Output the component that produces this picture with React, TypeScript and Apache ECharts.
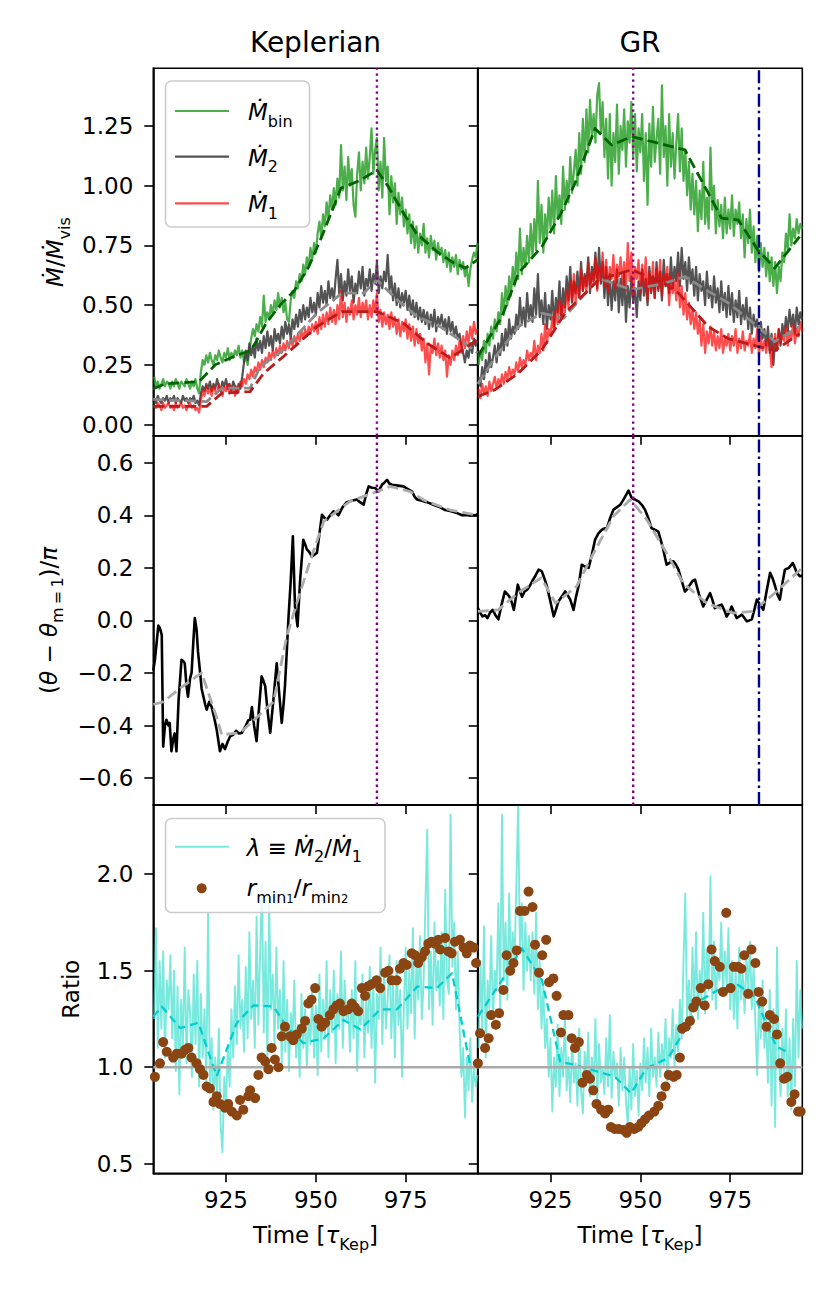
import React, { useEffect, useRef } from 'react';
import * as echarts from 'echarts';

// ---------- axes / ticks ----------
const T0 = 905;
const DT = 0.5;
const X_MIN = 904.75;
const X_MAX = 995.05;
const X_TICKS = [925, 950, 975];
const MDOT_TICKS = [0, 0.25, 0.5, 0.75, 1.0, 1.25];
const THETA_TICKS = [-0.6, -0.4, -0.2, 0, 0.2, 0.4, 0.6];
const RATIO_TICKS = [0.5, 1.0, 1.5, 2.0];
const Y_RANGES = [[-0.0473, 1.4918], [-0.7025, 0.7025], [0.4503, 2.3586]];
const COL_TITLES = ['Keplerian', 'GR'];
const T_PEAK = [967.0, 948.0];
const T_BLUE_GR = 983.0;
const RATIO_REF = 1.0;

// ---------- Kepleran accretion rates (t = 905 + 0.5 i) ----------
const mbinKep = [
  0.20,0.16,0.18,0.15,0.17,0.19,0.16,0.18,0.17,0.15,
  0.18,0.16,0.19,0.17,0.15,0.18,0.17,0.16,0.19,0.17,
  0.15,0.18,0.16,0.19,0.15,0.13,0.22,0.27,0.25,0.29,
  0.26,0.30,0.27,0.25,0.29,0.27,0.31,0.28,0.26,0.30,
  0.28,0.32,0.27,0.30,0.28,0.31,0.29,0.33,0.28,0.31,
  0.26,0.29,0.25,0.31,0.36,0.40,0.37,0.42,0.39,0.45,
  0.41,0.54,0.43,0.47,0.44,0.50,0.46,0.52,0.48,0.55,
  0.49,0.53,0.47,0.51,0.44,0.43,0.52,0.56,0.53,0.60,
  0.57,0.63,0.60,0.67,0.63,0.70,0.66,0.74,0.69,0.76,
  0.72,0.80,0.85,0.78,0.88,0.83,0.93,0.86,0.96,0.90,
  0.99,0.92,1.03,0.95,1.17,0.98,1.08,0.94,1.12,1.00,
  1.07,0.92,0.87,1.05,1.14,0.98,1.10,1.01,1.16,1.03,
  1.12,1.24,1.05,1.15,1.20,0.98,1.10,0.95,1.20,1.02,
  1.08,0.88,1.04,0.93,1.01,0.84,0.97,0.88,0.95,0.83,
  0.90,0.80,0.88,0.76,0.85,0.74,0.83,0.72,0.80,0.75,
  0.84,0.72,0.78,0.70,0.79,0.73,0.77,0.69,0.76,0.71,
  0.74,0.68,0.73,0.66,0.72,0.64,0.70,0.66,0.71,0.63,
  0.69,0.65,0.68,0.62,0.66,0.58,0.65,0.69,0.72,0.70,
  0.76,
];
const m2Kep = [
  0.11,0.09,0.12,0.10,0.09,0.11,0.10,0.12,0.09,0.11,
  0.10,0.12,0.09,0.11,0.10,0.09,0.12,0.10,0.11,0.09,
  0.11,0.10,0.12,0.09,0.10,0.08,0.13,0.16,0.14,0.17,
  0.15,0.18,0.14,0.17,0.15,0.19,0.16,0.14,0.18,0.16,
  0.19,0.15,0.17,0.14,0.18,0.16,0.13,0.17,0.15,0.20,
  0.26,0.31,0.27,0.34,0.29,0.33,0.28,0.36,0.31,0.35,
  0.30,0.37,0.32,0.39,0.33,0.37,0.31,0.40,0.35,0.38,
  0.34,0.41,0.36,0.43,0.38,0.42,0.36,0.44,0.40,0.46,
  0.41,0.48,0.43,0.50,0.44,0.49,0.45,0.53,0.47,0.51,
  0.46,0.55,0.49,0.58,0.51,0.56,0.50,0.60,0.53,0.57,
  0.52,0.61,0.69,0.55,0.63,0.52,0.60,0.54,0.65,0.56,
  0.62,0.51,0.59,0.55,0.64,0.57,0.66,0.54,0.61,0.58,
  0.65,0.56,0.63,0.59,0.68,0.55,0.62,0.57,0.64,0.60,
  0.71,0.56,0.62,0.52,0.59,0.50,0.57,0.49,0.55,0.51,
  0.56,0.48,0.54,0.46,0.52,0.45,0.51,0.44,0.49,0.43,
  0.48,0.42,0.47,0.40,0.46,0.41,0.48,0.39,0.45,0.42,
  0.46,0.40,0.44,0.38,0.45,0.39,0.43,0.37,0.41,0.36,
  0.38,0.33,0.30,0.26,0.31,0.28,0.34,0.30,0.36,0.33,
  0.35,
];
const m1Kep = [
  0.08,0.07,0.09,0.08,0.06,0.09,0.07,0.08,0.09,0.07,
  0.08,0.06,0.09,0.07,0.08,0.09,0.07,0.08,0.06,0.08,
  0.09,0.07,0.08,0.06,0.07,0.05,0.10,0.14,0.12,0.16,
  0.13,0.15,0.12,0.16,0.14,0.13,0.17,0.14,0.12,0.16,
  0.14,0.17,0.13,0.16,0.15,0.12,0.16,0.14,0.18,0.16,
  0.19,0.17,0.21,0.19,0.23,0.20,0.24,0.22,0.26,0.23,
  0.27,0.24,0.28,0.26,0.30,0.27,0.31,0.28,0.32,0.29,
  0.33,0.30,0.34,0.31,0.35,0.32,0.36,0.33,0.37,0.34,
  0.38,0.35,0.39,0.36,0.40,0.37,0.41,0.38,0.42,0.39,
  0.43,0.38,0.45,0.40,0.46,0.41,0.47,0.42,0.49,0.43,
  0.48,0.42,0.50,0.44,0.56,0.45,0.51,0.43,0.49,0.46,
  0.52,0.44,0.50,0.46,0.53,0.45,0.51,0.47,0.52,0.44,
  0.50,0.45,0.52,0.47,0.55,0.43,0.48,0.41,0.47,0.42,
  0.46,0.40,0.47,0.41,0.45,0.38,0.44,0.37,0.43,0.39,
  0.44,0.36,0.42,0.35,0.41,0.33,0.40,0.34,0.38,0.31,
  0.36,0.26,0.34,0.21,0.33,0.30,0.36,0.29,0.34,0.28,
  0.33,0.27,0.31,0.20,0.29,0.25,0.31,0.27,0.33,0.29,
  0.35,0.30,0.37,0.32,0.39,0.34,0.41,0.36,0.43,0.38,
  0.40,
];
const mbinKepAvg = [[904.75,0.15],[908,0.17],[917.5,0.18],[922,0.25],[928,0.29],[932,0.31],[936,0.42],[940,0.50],[944,0.56],[948,0.66],[952,0.80],[957,0.99],[962,1.02],[967,1.065],[970,1.0],[974.4,0.885],[978,0.80],[983.7,0.724],[988,0.68],[991.6,0.655],[995.05,0.69]];
const m2KepAvg = [[904.75,0.105],[919.6,0.096],[923.8,0.152],[931.7,0.152],[934.5,0.243],[941,0.313],[950.3,0.466],[957.2,0.55],[963.3,0.55],[967,0.606],[972.6,0.522],[978.2,0.452],[984.6,0.41],[992,0.334],[995.05,0.30]];
const m1KepAvg = [[904.75,0.076],[919.6,0.076],[923.8,0.131],[931.7,0.138],[935.5,0.215],[941,0.285],[950.3,0.41],[957.2,0.473],[967,0.473],[974.4,0.424],[980.9,0.341],[987.4,0.278],[995.05,0.356]];

// ---------- GR accretion rates (t = 905 + 0.5 i) ----------
const mbinGR = [
  0.25,0.31,0.27,0.35,0.30,0.38,0.33,0.41,0.36,0.44,
  0.39,0.47,0.42,0.55,0.46,0.58,0.50,0.62,0.54,0.66,
  0.58,0.72,0.61,0.82,0.63,0.74,0.66,0.79,0.68,0.84,
  0.70,0.86,0.73,1.02,0.76,0.92,0.72,0.88,0.78,0.95,
  0.82,0.98,0.80,1.04,0.86,0.96,0.84,1.08,0.90,1.02,
  0.93,1.12,0.97,1.06,1.15,1.00,1.22,1.05,1.28,1.10,
  1.32,1.14,1.36,1.20,1.30,1.18,1.38,1.43,1.22,1.35,
  1.12,1.28,1.03,1.30,1.00,1.22,1.10,1.34,1.05,1.25,
  1.15,1.32,1.08,1.27,1.18,1.35,1.12,1.30,1.06,1.24,
  1.14,1.30,1.02,1.22,0.92,1.26,1.08,1.33,1.10,1.20,
  1.28,1.05,1.42,1.12,1.25,1.00,1.30,1.08,1.22,1.03,
  1.18,1.30,1.06,1.24,1.02,1.15,0.96,1.10,0.90,1.05,
  0.88,1.02,0.81,0.98,0.86,1.10,0.84,0.95,0.82,1.16,
  0.90,1.00,0.80,0.94,0.83,0.92,0.78,0.95,0.80,0.90,
  0.82,0.96,0.79,0.90,0.84,0.93,0.78,0.88,0.70,0.86,
  0.76,0.90,0.72,0.83,0.68,0.79,0.64,0.76,0.66,0.74,
  0.62,0.72,0.60,0.70,0.58,0.68,0.55,0.66,0.60,0.72,
  0.68,0.80,0.73,0.88,0.75,0.82,0.78,0.86,0.80,0.84,
  0.82,
];
const m2GR = [
  0.20,0.16,0.24,0.19,0.27,0.22,0.30,0.24,0.28,0.33,
  0.26,0.34,0.29,0.38,0.31,0.40,0.33,0.44,0.36,0.41,
  0.38,0.46,0.40,0.53,0.42,0.49,0.41,0.55,0.44,0.50,
  0.43,0.57,0.46,0.63,0.45,0.52,0.42,0.55,0.40,0.50,
  0.44,0.56,0.41,0.53,0.47,0.60,0.44,0.57,0.49,0.62,
  0.52,0.66,0.51,0.60,0.55,0.64,0.53,0.68,0.56,0.63,
  0.58,0.70,0.55,0.66,0.60,0.72,0.57,0.74,0.59,0.68,
  0.53,0.66,0.50,0.63,0.48,0.60,0.52,0.65,0.47,0.61,
  0.50,0.63,0.43,0.58,0.49,0.62,0.51,0.57,0.45,0.60,
  0.52,0.65,0.54,0.61,0.50,0.66,0.55,0.62,0.53,0.68,
  0.56,0.64,0.52,0.69,0.58,0.63,0.55,0.70,0.57,0.66,
  0.60,0.72,0.58,0.74,0.61,0.68,0.56,0.70,0.59,0.65,
  0.54,0.66,0.52,0.63,0.56,0.60,0.50,0.64,0.53,0.58,
  0.49,0.62,0.51,0.57,0.47,0.60,0.48,0.55,0.45,0.58,
  0.46,0.55,0.43,0.52,0.45,0.56,0.42,0.50,0.44,0.53,
  0.40,0.49,0.38,0.46,0.41,0.44,0.35,0.43,0.36,0.40,
  0.33,0.41,0.30,0.38,0.25,0.36,0.31,0.40,0.33,0.42,
  0.37,0.45,0.39,0.48,0.41,0.46,0.38,0.49,0.42,0.47,
  0.44,
];
const m1GR = [
  0.15,0.11,0.17,0.13,0.16,0.12,0.18,0.14,0.17,0.20,
  0.15,0.19,0.16,0.21,0.17,0.22,0.19,0.24,0.20,0.23,
  0.21,0.26,0.22,0.28,0.24,0.27,0.25,0.31,0.27,0.30,
  0.28,0.35,0.27,0.33,0.30,0.38,0.31,0.42,0.34,0.40,
  0.37,0.45,0.39,0.48,0.42,0.52,0.44,0.50,0.47,0.56,
  0.49,0.60,0.52,0.63,0.51,0.58,0.54,0.65,0.56,0.62,
  0.55,0.68,0.57,0.64,0.59,0.70,0.56,0.66,0.60,0.72,
  0.58,0.69,0.55,0.66,0.61,0.71,0.57,0.67,0.62,0.70,
  0.59,0.68,0.56,0.76,0.60,0.72,0.54,0.66,0.61,0.69,
  0.55,0.67,0.58,0.70,0.52,0.64,0.56,0.68,0.53,0.65,
  0.57,0.69,0.54,0.63,0.58,0.66,0.50,0.62,0.55,0.60,
  0.52,0.64,0.49,0.58,0.46,0.55,0.44,0.51,0.42,0.48,
  0.40,0.47,0.38,0.44,0.33,0.42,0.30,0.39,0.34,0.41,
  0.33,0.39,0.31,0.37,0.32,0.40,0.30,0.36,0.33,0.38,
  0.31,0.37,0.33,0.40,0.30,0.36,0.32,0.39,0.31,0.35,
  0.33,0.38,0.30,0.36,0.32,0.40,0.29,0.37,0.31,0.35,
  0.30,0.36,0.32,0.24,0.33,0.38,0.31,0.40,0.34,0.37,
  0.35,0.41,0.33,0.39,0.36,0.42,0.34,0.40,0.37,0.43,
  0.39,
];
const mbinGRAvg = [[904.8,0.285],[911.5,0.452],[916.1,0.634],[922.6,0.745],[927.7,0.878],[931.8,1.01],[937.4,1.24],[942,1.17],[947.6,1.206],[962.4,1.15],[968.9,0.969],[972.6,0.864],[977.2,0.857],[982.7,0.731],[987.4,0.655],[994.3,0.787]];
const m2GRAvg = [[904.8,0.17],[910,0.29],[916.1,0.41],[922.6,0.466],[928.6,0.445],[938.4,0.613],[947.6,0.564],[956.9,0.592],[962.4,0.62],[968.9,0.558],[974.4,0.51],[982.7,0.41],[987.4,0.347],[994.3,0.41]];
const m1GRAvg = [[904.8,0.117],[909.6,0.146],[916.1,0.215],[922.6,0.313],[929,0.466],[938.4,0.606],[947.6,0.648],[956.9,0.59],[960.6,0.55],[968.9,0.41],[974.4,0.36],[982.7,0.327],[987.4,0.31],[994.3,0.38]];

// ---------- phase (theta - theta_m=1)/pi ----------
const thetaKep = [[904.75,-0.19],[905.2,-0.15],[906.15,-0.02],[906.6,-0.03],[907.1,-0.055],[907.5,-0.48],[908.0,-0.40],[908.4,-0.378],[909.0,-0.40],[909.3,-0.39],[909.8,-0.498],[910.3,-0.45],[910.7,-0.43],[911.2,-0.498],[911.8,-0.30],[912.6,-0.15],[913.1,-0.155],[913.5,-0.163],[914.0,-0.25],[914.4,-0.29],[915.0,-0.22],[915.4,-0.20],[915.9,-0.08],[916.3,0.009],[916.8,-0.035],[917.2,-0.12],[917.7,-0.188],[918.2,-0.26],[918.7,-0.29],[919.2,-0.32],[919.6,-0.34],[920.3,-0.31],[921.0,-0.33],[921.7,-0.37],[922.4,-0.416],[923.3,-0.498],[924.0,-0.47],[924.7,-0.49],[925.5,-0.46],[926.2,-0.44],[927.0,-0.435],[927.8,-0.42],[928.5,-0.43],[929.4,-0.428],[930.5,-0.40],[931.2,-0.38],[931.7,-0.378],[932.2,-0.33],[932.8,-0.40],[933.5,-0.46],[934.2,-0.33],[934.9,-0.213],[935.4,-0.23],[935.9,-0.25],[936.6,-0.35],[937.3,-0.428],[938.2,-0.30],[939.1,-0.163],[939.8,-0.28],[940.5,-0.39],[941.0,-0.32],[941.4,-0.25],[941.9,-0.12],[942.4,0.015],[943.0,0.15],[943.6,0.32],[944.2,0.053],[944.9,-0.023],[945.6,0.15],[946.5,0.307],[947.0,0.29],[947.5,0.27],[948.2,0.26],[948.9,0.243],[949.6,0.25],[950.3,0.257],[951.0,0.33],[951.7,0.402],[952.4,0.39],[953.1,0.383],[954.0,0.40],[954.9,0.415],[955.6,0.41],[956.3,0.40],[957.4,0.43],[958.6,0.45],[960.0,0.455],[961.4,0.46],[962.3,0.45],[963.3,0.44],[964.0,0.48],[964.7,0.51],[965.6,0.505],[966.5,0.504],[967.4,0.49],[968.4,0.516],[969.1,0.525],[969.8,0.535],[970.5,0.52],[971.2,0.516],[972.8,0.513],[974.4,0.51],[975.6,0.50],[976.8,0.49],[977.5,0.47],[978.2,0.46],[979.5,0.455],[980.9,0.45],[982.7,0.44],[984.6,0.43],[986.0,0.42],[987.4,0.416],[989.0,0.41],[990.7,0.40],[992.5,0.40],[994.4,0.40],[995.05,0.405]];
const thetaKepAvg = [[904.75,-0.32],[907.5,-0.31],[913,-0.25],[918.2,-0.20],[922.4,-0.37],[923.8,-0.435],[928.9,-0.428],[938.2,-0.31],[941.9,-0.06],[944.7,0.066],[948.5,0.23],[952.2,0.377],[959.5,0.453],[967,0.49],[970.7,0.51],[976.3,0.49],[980,0.458],[987.4,0.42],[995.05,0.40]];
const thetaGR = [[904.8,0.047],[905.4,0.03],[906.1,0.015],[906.8,0.02],[907.5,0.009],[908.2,0.03],[908.9,0.04],[909.7,0.02],[910.5,0.004],[911.4,0.06],[912.3,0.11],[913.0,0.10],[913.6,0.09],[914.2,0.07],[914.8,0.04],[915.4,0.09],[915.9,0.136],[916.5,0.11],[917.1,0.09],[917.8,0.11],[918.5,0.117],[919.2,0.13],[919.9,0.149],[920.8,0.17],[921.7,0.193],[922.2,0.19],[922.6,0.186],[923.3,0.16],[924.0,0.13],[925.0,0.07],[925.9,0.015],[926.5,0.04],[927.2,0.072],[928.1,0.09],[929.1,0.11],[929.8,0.095],[930.5,0.079],[931.4,0.04],[932.1,0.09],[932.8,0.13],[933.7,0.212],[934.6,0.205],[935.6,0.20],[936.5,0.25],[937.4,0.307],[938.3,0.33],[939.3,0.345],[940.0,0.35],[940.7,0.351],[941.6,0.39],[942.5,0.421],[943.4,0.43],[944.4,0.44],[945.1,0.455],[945.8,0.472],[946.7,0.494],[947.6,0.465],[948.5,0.46],[949.5,0.453],[950.4,0.44],[951.3,0.421],[952.2,0.39],[953.1,0.351],[954.0,0.345],[955.0,0.338],[956.2,0.28],[957.3,0.212],[958.2,0.22],[959.2,0.225],[960.0,0.21],[960.6,0.193],[961.5,0.15],[962.4,0.11],[963.1,0.12],[963.8,0.136],[964.5,0.15],[965.2,0.155],[966.3,0.10],[967.5,0.053],[968.5,0.08],[969.4,0.104],[970.0,0.08],[970.7,0.047],[971.6,0.055],[972.6,0.06],[973.3,0.04],[974.0,0.015],[974.7,0.03],[975.4,0.053],[976.1,0.03],[976.8,0.009],[977.5,0.015],[978.2,0.022],[978.9,0.01],[979.6,-0.003],[980.3,0.0],[981.0,0.004],[981.7,0.04],[982.4,0.079],[983.3,0.06],[984.2,0.04],[985.1,0.11],[986.1,0.181],[986.8,0.16],[987.5,0.13],[988.1,0.10],[988.8,0.079],[989.5,0.14],[990.2,0.193],[991.3,0.20],[992.4,0.218],[993.0,0.20],[993.5,0.181],[994.4,0.168],[995.05,0.17]];
const thetaGRAvg = [[904.8,0.034],[910.5,0.04],[915.9,0.104],[922.4,0.162],[926.4,0.066],[932.3,0.13],[937,0.256],[942.5,0.396],[947.2,0.46],[951.8,0.383],[957.3,0.256],[961.9,0.142],[968.4,0.066],[975.7,0.028],[981.2,0.034],[987.4,0.104],[995.05,0.2]];

// ---------- ratio lambda = M2/M1 (t = 905 + 0.5 i) ----------
const lambdaKep = [
  1.25,1.72,1.10,1.55,1.20,1.60,1.05,1.45,1.30,1.58,
  1.15,1.50,0.98,1.42,0.86,1.35,1.10,1.62,1.02,1.40,
  1.28,0.95,1.48,1.12,1.55,0.90,1.38,1.05,1.30,0.92,
  1.80,0.88,1.15,0.78,1.05,0.85,1.20,0.70,0.56,0.95,
  0.82,1.10,0.90,1.30,1.05,1.42,1.12,1.58,1.20,1.35,
  1.08,1.52,1.15,1.70,1.25,1.45,1.10,1.78,1.22,1.60,
  1.95,1.18,1.65,1.05,1.85,1.30,1.48,1.12,1.62,1.20,
  1.40,1.02,1.55,1.08,1.35,0.98,1.28,1.15,1.45,1.05,
  1.22,0.95,1.38,1.10,1.30,1.00,1.25,1.12,1.42,1.05,
  1.32,0.96,1.48,1.08,1.35,1.15,1.55,1.05,1.40,1.18,
  1.50,1.02,1.38,1.20,1.60,1.10,1.45,1.25,1.32,1.08,
  1.40,1.15,1.55,0.98,1.30,1.22,1.48,1.05,1.35,1.18,
  1.52,1.10,1.45,0.92,1.38,1.25,1.62,1.12,1.50,1.20,
  1.35,1.58,1.15,1.45,1.05,1.55,1.22,1.40,0.95,1.30,
  1.62,1.20,1.50,1.28,1.72,1.15,1.55,1.35,1.68,1.25,
  1.45,1.85,2.23,1.30,1.60,1.22,1.75,1.40,1.55,1.32,
  1.70,1.25,1.92,1.45,1.38,2.31,1.52,1.75,1.30,1.60,
  1.20,0.95,1.10,0.74,1.05,0.88,1.15,0.82,1.00,0.90,
  0.96,
];
const lambdaGR = [
  1.10,1.55,1.20,1.73,1.05,1.45,1.30,1.68,1.25,1.50,
  1.40,1.85,1.30,2.31,1.45,1.75,1.35,1.90,1.50,1.70,
  1.55,1.95,2.35,1.60,1.85,1.40,1.75,1.50,1.68,1.45,
  1.70,1.38,1.80,1.30,1.55,1.20,1.42,1.10,1.25,0.95,
  1.15,0.77,1.05,0.90,1.22,0.85,1.10,0.95,1.28,0.88,
  1.05,0.82,1.15,0.92,1.02,0.80,1.20,0.88,0.76,1.08,
  0.95,1.18,0.85,1.05,0.90,1.25,0.82,1.12,0.92,1.00,
  0.86,1.15,0.90,1.27,0.84,1.08,0.95,1.02,0.80,1.10,
  0.88,1.05,0.82,0.70,1.00,0.78,1.12,0.85,0.98,0.75,
  1.02,0.88,1.15,0.92,1.10,0.85,1.20,0.95,1.05,0.90,
  1.18,0.95,1.12,1.00,1.25,0.92,1.15,1.05,1.30,1.00,
  1.22,1.08,1.35,1.15,1.55,1.90,1.25,1.45,1.20,1.62,
  1.30,1.70,1.25,1.50,1.35,1.80,1.28,1.60,1.40,1.99,
  1.35,1.65,1.30,1.55,1.45,1.75,1.38,1.60,1.42,1.72,
  1.30,1.55,1.25,1.50,1.20,1.62,1.35,1.48,1.28,1.58,
  1.40,1.65,1.30,1.52,1.22,0.96,1.35,1.15,1.45,1.10,
  1.25,0.92,1.40,0.80,1.30,0.69,1.62,1.05,0.85,1.20,
  0.95,1.30,0.85,1.15,0.78,1.25,0.90,1.55,1.05,1.40,
  1.20,
];
const lambdaKepAvg = [[904.75,1.262],[907.1,1.315],[912.2,1.203],[917.3,1.23],[922.4,0.954],[928,1.23],[932.6,1.32],[938.2,1.315],[941.9,1.21],[946.5,1.125],[952.2,1.15],[957.7,1.245],[962.4,1.195],[967.9,1.30],[972.6,1.30],[978.2,1.418],[983.7,1.41],[987.9,1.487],[993,1.005]];
const lambdaGRAvg = [[904.8,1.262],[912.8,1.487],[917,1.617],[922.6,1.452],[927.7,1.029],[931.8,1.012],[942.9,0.951],[947.4,0.865],[951.7,0.995],[957.7,1.047],[962.4,1.193],[967,1.349],[971.6,1.40],[977.2,1.426],[981.8,1.366],[987.8,1.107],[991.5,1.073]];

// ---------- r_min1 / r_min2 ----------
const rminKep = [[905.2,0.95],[906.6,1.02],[907.5,1.13],[908.5,1.08],[910.3,1.05],[911.3,1.07],[912.6,1.07],[913.6,1.09],[914.5,1.10],[915.4,1.05],[916.8,1.02],[917.75,0.99],[918.7,0.96],[919.6,0.90],[920.5,0.89],[921.5,0.82],[922.4,0.85],[923.3,0.81],[924.7,0.79],[925.6,0.81],[926.6,0.77],[928,0.75],[928.9,0.83],[929.8,0.78],[931.2,0.85],[931.7,0.88],[933.1,0.84],[934,0.96],[934.9,1.05],[935.9,1.03],[936.8,0.99],[937.7,1.10],[938.6,1.04],[939.6,1.00],[940.5,1.16],[941.4,1.21],[942.8,1.16],[943.7,1.14],[944.7,1.17],[946.1,1.20],[947,1.24],[947.9,1.33],[948.8,1.35],[949.8,1.41],[950.7,1.25],[951.6,1.21],[952.6,1.23],[953.9,1.27],[954.9,1.30],[955.8,1.32],[956.7,1.33],[957.7,1.29],[959,1.30],[960,1.33],[960.9,1.31],[961.8,1.29],[962.8,1.41],[963.7,1.37],[964.6,1.42],[965.5,1.43],[966.9,1.45],[967.9,1.41],[969.3,1.49],[970.2,1.50],[971.1,1.45],[972.5,1.45],[973.4,1.51],[974.4,1.54],[975.3,1.53],[976.7,1.59],[977.6,1.58],[978.5,1.54],[979.5,1.57],[980.4,1.60],[981.3,1.64],[982.2,1.65],[983.2,1.64],[984.1,1.66],[984.6,1.61],[986,1.67],[986.9,1.60],[987.8,1.59],[988.7,1.65],[990.1,1.66],[991.1,1.62],[992,1.59],[992.9,1.63],[993.9,1.62],[994.6,1.54]];
const rminGR = [[904.8,1.02],[905.4,1.176],[906.8,1.10],[907.8,1.15],[908.5,1.27],[909.8,1.22],[910.7,1.28],[911.9,1.40],[912.8,1.58],[913.8,1.50],[914.7,1.54],[915.6,1.605],[916.5,1.81],[917.8,1.81],[918.9,1.91],[920,1.83],[920.7,1.635],[921.8,1.49],[922.7,1.58],[923.8,1.66],[924.6,1.44],[925.8,1.46],[926.7,1.37],[927.9,1.18],[928.6,1.27],[930,1.27],[930.9,1.15],[931.8,1.10],[932.9,1.13],[933.9,0.92],[935.1,0.96],[936,0.94],[936.9,0.88],[937.8,0.81],[939.1,0.78],[940.2,0.76],[941.1,0.78],[941.8,0.69],[942.9,0.68],[944,0.68],[945.3,0.675],[946.2,0.66],[947.1,0.69],[948.3,0.68],[949.4,0.69],[950.3,0.71],[951.3,0.73],[952.4,0.75],[953.9,0.77],[955,0.80],[955.9,0.85],[957,0.90],[957.9,0.96],[959.3,0.95],[960.1,0.96],[961,1.05],[961.6,1.20],[962.6,1.21],[963.8,1.24],[964.7,1.31],[965.6,1.34],[966.8,1.41],[967.9,1.32],[968.9,1.43],[969.8,1.61],[970.7,1.55],[972.1,1.52],[973,1.39],[973.9,1.80],[975.1,1.41],[976,1.52],[977.2,1.52],[978.1,1.51],[978.9,1.58],[980,1.38],[980.9,1.61],[982,1.54],[982.9,1.39],[983.9,1.34],[985.1,1.21],[986,1.27],[987.2,1.25],[988,1.17],[988.9,1.02],[990,0.94],[990.9,0.95],[992,0.82],[992.9,0.86],[993.9,0.77],[994.6,0.77]];

// ---------- styling ----------
const FONT = 'DejaVu Sans';
const C = {
  bin: '#2ca02c', binAvg: '#006400',
  m2: '#404040', m2Avg: '#8a8a8a',
  m1: '#ff0000', m1Avg: '#b81c1c',
  theta: '#000000', thetaAvg: '#ababab',
  lam: '#40e0d0', lamAvg: '#00ced1',
  rmin: '#8b4513', ref: '#aaaaaa',
  purple: '#800080', blue: '#00008b',
};
const COL_LEFT = [153.3, 477.7];
const COL_W = [324.4, 324.6];
const ROW_TOP = [68.3, 435.8, 805];
const ROW_H = [367.5, 369.2, 368.3];

const RICH: any = {
  n: { fontFamily: FONT, fontSize: 23, lineHeight: 34, verticalAlign: 'middle', fill: '#000', color: '#000' },
  i: { fontFamily: FONT, fontSize: 23, fontStyle: 'italic', lineHeight: 34, verticalAlign: 'middle', fill: '#000', color: '#000' },
  s: { fontFamily: FONT, fontSize: 16, lineHeight: 20, verticalAlign: 'bottom', fill: '#000', color: '#000' },
  ss: { fontFamily: FONT, fontSize: 11.5, lineHeight: 10, verticalAlign: 'bottom', fill: '#000', color: '#000' },
};

const grid = (arr: number[]) => arr.map((v, i) => [T0 + i * DT, v]);

function lineSeries(g: number, data: any[], color: string, width: number, opts: any = {}) {
  return {
    type: 'line', xAxisIndex: g, yAxisIndex: g, data,
    showSymbol: false, symbol: 'none', silent: true, animation: false,
    z: opts.z ?? 2,
    lineStyle: { color, width, opacity: opts.opacity ?? 1, type: opts.dash ?? 'solid', cap: 'butt', join: 'round' },
  };
}

function richText(x: number, y: number, text: string, extra: any = {}) {
  return {
    type: 'text', x, y, z: 110, silent: true, rotation: extra.rotation ?? 0,
    style: {
      text, rich: RICH,
      align: extra.align ?? 'left', textAlign: extra.align ?? 'left',
      verticalAlign: 'middle', textVerticalAlign: 'middle',
      fill: '#000',
    },
  };
}

function buildOption() {
  const grids: any[] = [];
  const xAxes: any[] = [];
  const yAxes: any[] = [];
  const yTicks = [MDOT_TICKS, THETA_TICKS, RATIO_TICKS];
  const yFmt = [
    (v: number) => v.toFixed(2),
    (v: number) => (v < -1e-9 ? '\u2212' : '') + Math.abs(v).toFixed(1),
    (v: number) => v.toFixed(1),
  ];
  for (let r = 0; r < 3; r++) {
    for (let c = 0; c < 2; c++) {
      const g = r * 2 + c;
      grids.push({ left: COL_LEFT[c], top: ROW_TOP[r], width: COL_W[c], height: ROW_H[r], show: true, borderColor: '#000', borderWidth: 1.6, backgroundColor: 'transparent', containLabel: false });
      xAxes.push({
        type: 'value', gridIndex: g, min: X_MIN, max: X_MAX,
        axisLine: { show: true, onZero: false, lineStyle: { color: '#000', width: 1.6 } },
        splitLine: { show: false },
        axisTick: { show: true, inside: false, length: 9, lineStyle: { color: '#000', width: 1.6 }, customValues: X_TICKS },
        axisLabel: { show: r === 2, customValues: X_TICKS, fontSize: 23, fontFamily: FONT, color: '#000', margin: 15, formatter: (v: number) => String(Math.round(v)) },
      });
      yAxes.push({
        type: 'value', gridIndex: g, min: Y_RANGES[r][0], max: Y_RANGES[r][1],
        axisLine: { show: true, onZero: false, lineStyle: { color: '#000', width: 1.6 } },
        splitLine: { show: false },
        axisTick: { show: true, inside: false, length: 9, lineStyle: { color: '#000', width: 1.6 }, customValues: yTicks[r] },
        axisLabel: { show: c === 0, customValues: yTicks[r], fontSize: 23, fontFamily: FONT, color: '#000', margin: 20, formatter: yFmt[r] },
      });
    }
  }

  const series: any[] = [];
  const dashA = [11, 5];
  // Row 0: accretion rates
  const accr = [
    [mbinKep, m2Kep, m1Kep, mbinKepAvg, m2KepAvg, m1KepAvg],
    [mbinGR, m2GR, m1GR, mbinGRAvg, m2GRAvg, m1GRAvg],
  ];
  for (let c = 0; c < 2; c++) {
    const g = c;
    const [b, m2, m1, bA, m2A, m1A] = accr[c] as any[];
    series.push(lineSeries(g, grid(b), C.bin, 2.2, { opacity: 0.85 }));
    series.push(lineSeries(g, grid(m2), C.m2, 2.2, { opacity: 0.9 }));
    series.push(lineSeries(g, grid(m1), C.m1, 2.2, { opacity: 0.7 }));
    series.push(lineSeries(g, bA, C.binAvg, 2.8, { dash: dashA }));
    series.push(lineSeries(g, m2A, C.m2Avg, 2.8, { dash: dashA }));
    series.push(lineSeries(g, m1A, C.m1Avg, 2.8, { dash: dashA }));
  }
  // Row 1: phase
  const th = [[thetaKep, thetaKepAvg], [thetaGR, thetaGRAvg]];
  for (let c = 0; c < 2; c++) {
    const g = 2 + c;
    series.push(lineSeries(g, th[c][0], C.theta, 2.6));
    series.push(lineSeries(g, th[c][1], C.thetaAvg, 2.8, { dash: dashA }));
  }
  // Row 2: ratios
  const ra = [[lambdaKep, lambdaKepAvg, rminKep], [lambdaGR, lambdaGRAvg, rminGR]];
  for (let c = 0; c < 2; c++) {
    const g = 4 + c;
    series.push(lineSeries(g, grid(ra[c][0] as number[]), C.lam, 1.9, { opacity: 0.7 }));
    series.push(lineSeries(g, ra[c][1], C.lamAvg, 2.3, { dash: [8, 5] }));
    series.push(lineSeries(g, [[X_MIN, RATIO_REF], [X_MAX, RATIO_REF]], C.ref, 2.4));
    series.push({
      type: 'scatter', xAxisIndex: g, yAxisIndex: g, data: ra[c][2], symbol: 'circle', symbolSize: 10,
      itemStyle: { color: C.rmin, opacity: 1 }, silent: true, animation: false, z: 3,
    });
  }
  // vertical markers
  for (let r = 0; r < 2; r++) {
    for (let c = 0; c < 2; c++) {
      const g = r * 2 + c;
      series.push(lineSeries(g, [[T_PEAK[c], Y_RANGES[r][0]], [T_PEAK[c], Y_RANGES[r][1]]], C.purple, 2.4, { dash: [2.4, 3.6], z: 5 }));
      if (c === 1) {
        series.push(lineSeries(g, [[T_BLUE_GR, Y_RANGES[r][0]], [T_BLUE_GR, Y_RANGES[r][1]]], C.blue, 2.4, { dash: [13, 4, 2.5, 4], z: 5 }));
      }
    }
  }

  const graphic: any[] = [];
  // titles
  const cx = [COL_LEFT[0] + COL_W[0] / 2, COL_LEFT[1] + COL_W[1] / 2];
  for (let c = 0; c < 2; c++) {
    graphic.push({ type: 'text', x: cx[c], y: 42.5, z: 110, silent: true, style: { text: COL_TITLES[c], font: `28px "${FONT}"`, fill: '#000', align: 'center', textAlign: 'center', verticalAlign: 'middle', textVerticalAlign: 'middle' } });
    graphic.push(richText(cx[c], 1235, '{n|Time [}{i|\u03C4}{s|Kep}{n|]}', { align: 'center' }));
  }
  // y labels
  graphic.push(richText(55, ROW_TOP[0] + ROW_H[0] / 2, '{i|\u1E40}{n|/}{i|\u1E40}{s|vis}', { align: 'center', rotation: Math.PI / 2 }));
  graphic.push(richText(48.5, ROW_TOP[1] + ROW_H[1] / 2, '{n|(}{i|\u03B8}{n| \u2212 }{i|\u03B8}{s|m\u2009=\u20091}{n|)/}{i|\u03C0}', { align: 'center', rotation: Math.PI / 2 }));
  graphic.push(richText(70.5, ROW_TOP[2] + ROW_H[2] / 2, '{n|Ratio}', { align: 'center', rotation: Math.PI / 2 }));

  // legend (top-left)
  graphic.push({ type: 'rect', z: 100, silent: true, shape: { x: 165.5, y: 81, width: 144, height: 146, r: 6 }, style: { fill: 'rgba(255,255,255,0.8)', stroke: '#cccccc', lineWidth: 1.6 } });
  const legRows = [
    { y: 111, color: C.bin, op: 0.85, text: '{i|\u1E40}{s|bin}' },
    { y: 156.7, color: C.m2, op: 0.9, text: '{i|\u1E40}{s|2}' },
    { y: 203.3, color: C.m1, op: 0.7, text: '{i|\u1E40}{s|1}' },
  ];
  for (const lr of legRows) {
    graphic.push({ type: 'line', z: 105, silent: true, shape: { x1: 175, y1: lr.y, x2: 229, y2: lr.y }, style: { stroke: lr.color, lineWidth: 2.2, opacity: lr.op } });
    graphic.push(richText(248, lr.y + 1, lr.text));
  }
  // legend (bottom-left)
  graphic.push({ type: 'rect', z: 100, silent: true, shape: { x: 165.5, y: 818.5, width: 219.5, height: 94, r: 6 }, style: { fill: 'rgba(255,255,255,0.8)', stroke: '#cccccc', lineWidth: 1.6 } });
  graphic.push({ type: 'line', z: 105, silent: true, shape: { x1: 175, y1: 846.7, x2: 229, y2: 846.7 }, style: { stroke: C.lam, lineWidth: 2, opacity: 0.7 } });
  graphic.push(richText(246.7, 847.7, '{i|\u03BB}{n| \u2261 }{i|\u1E40}{s|2}{n|/}{i|\u1E40}{s|1}'));
  graphic.push({ type: 'circle', z: 105, silent: true, shape: { cx: 201.7, cy: 888.3, r: 5 }, style: { fill: C.rmin } });
  graphic.push(richText(246.7, 888.3, '{i|r}{s|min}{ss|1}{n|/}{i|r}{s|min}{ss|2}'));

  return {
    animation: false,
    backgroundColor: '#ffffff',
    textStyle: { fontFamily: FONT },
    grid: grids,
    xAxis: xAxes,
    yAxis: yAxes,
    series,
    graphic,
  };
}

export default function App() {
  const ref = useRef<HTMLDivElement>(null);
  useEffect(() => {
    if (!ref.current) return;
    const chart = echarts.init(ref.current, undefined, { renderer: 'svg' });
    chart.setOption(buildOption() as any);
    return () => chart.dispose();
  }, []);
  return <div ref={ref} style={{ position: 'absolute', left: 0, top: 0, width: 830, height: 1292, background: '#fff' }} />;
}
